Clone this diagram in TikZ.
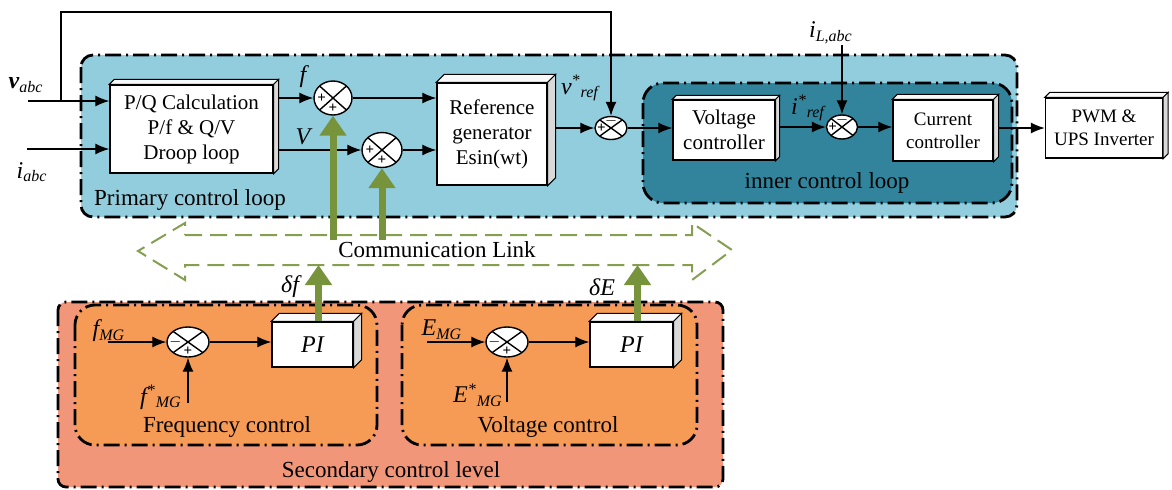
\documentclass[tikz,border=0pt]{standalone}
\usepackage{fontspec}
\setmainfont{Liberation Serif}
\usetikzlibrary{arrows.meta}
\usetikzlibrary{calc}
\usetikzlibrary{shapes.geometric}

\definecolor{primblue}{RGB}{146,205,221}
\definecolor{innerteal}{RGB}{49,132,155}
\definecolor{secsalmon}{RGB}{242,150,122}
\definecolor{ctrlorange}{RGB}{246,155,85}
\definecolor{linkgreen}{RGB}{119,147,60}

\tikzset{
	block/.style={draw, fill=white, line width=0.7pt, align=center, inner sep=0pt,
		font=\fontsize{10.5}{12.5}\selectfont},
	sumj/.style={draw, ellipse, fill=white, line width=0.7pt, inner sep=0pt,
		path picture={\draw[line width=0.7pt]
			(path picture bounding box.north west) -- (path picture bounding box.south east)
			(path picture bounding box.north east) -- (path picture bounding box.south west);}},
	sgn/.style={font=\fontsize{7.5}{7.5}\selectfont\bfseries, inner sep=0pt},
	wire/.style={line width=0.65pt, -{Latex[length=7pt,width=5.5pt]}},
	garrow/.style={draw=linkgreen, line width=3.5pt, -{Triangle[length=10pt,width=13pt]}},
	region/.style={line width=1.4pt, dash pattern=on 8pt off 2.5pt on 1pt off 2.5pt},
	lbl/.style={font=\fontsize{11.5}{13.5}\selectfont},
	sym/.style={font=\fontsize{12}{14}\selectfont\itshape}
}

\begin{document}
\begin{tikzpicture}[x=0.5pt, y=-0.5pt]
	\useasboundingbox (0,0) rectangle (1172,489);

	% -- Control levels
	\draw[region, fill=primblue, rounded corners=6pt] (81,55) rectangle (1017,217);
	\draw[region, fill=innerteal, rounded corners=10pt] (643,83) rectangle (1012,203);
	\draw[region, fill=secsalmon, rounded corners=4pt] (58,302) rectangle (723,487);
	\draw[region, fill=ctrlorange, rounded corners=10pt] (75,305) rectangle (377,445);
	\draw[region, fill=ctrlorange, rounded corners=10pt] (402,305) rectangle (697,445);

	\node[lbl] (primlbl) at (190,200) {Primary control loop};
	\node[lbl] (innerlbl) at (827,183) {inner control loop};
	\node[lbl] (freqlbl) at (227,427) {Frequency control};
	\node[lbl] (voltlbl) at (548,427) {Voltage control};
	\node[lbl] (seclbl) at (391,472) {Secondary control level};

	% -- Communication link
	\draw[draw=linkgreen!90, line width=1pt, dash pattern=on 8.5pt off 4pt]
		(185,235) -- (692,235) -- (692,223) -- (732,250) -- (692,280) -- (692,265)
		-- (185,265) -- (185,280) -- (138,251) -- (185,223) -- cycle;
	\node[lbl] (comm) at (437,250) {Communication Link};

	% -- Blocks
	\node[block, minimum width=81.5pt, minimum height=44pt] (pq) at (191.5,129) {P/Q Calculation\\P/f \& Q/V\\Droop loop};
	\node[block, minimum width=55pt, minimum height=51pt] (ref) at (492,134) {Reference\\generator\\Esin(wt)};
	\node[block, minimum width=51pt, minimum height=30pt] (vc) at (724,130) {Voltage\\controller};
	\node[block, minimum width=50pt, minimum height=30.5pt, font=\fontsize{9.5}{11.5}\selectfont] (cc) at (943,130.5) {Current\\controller};
	\node[block, minimum width=58.5pt, minimum height=30pt, font=\fontsize{9.5}{11.5}\selectfont] (pwm) at (1104,128) {PWM \&\\UPS Inverter};
	\node[block, minimum width=40.5pt, minimum height=22.5pt, font=\fontsize{12}{14}\selectfont\itshape] (pi1) at (312.5,344.5) {PI};
	\node[block, minimum width=41.5pt, minimum height=22.5pt, font=\fontsize{12}{14}\selectfont\itshape] (pi2) at (631.5,344.5) {PI};

	% -- 3D faces
	\foreach \n/\d in {pq/5,ref/8,vc/4,cc/5,pwm/5,pi1/8,pi2/8} {
		\draw[line width=0.5pt, fill=gray!5] (\n.north west) -- ++(\d,-\d) -- ([shift={(\d,-\d)}]\n.north east) -- (\n.north east) -- cycle;
		\draw[line width=0.5pt, fill=gray!30] (\n.north east) -- ++(\d,-\d) -- ([shift={(\d,-\d)}]\n.south east) -- (\n.south east) -- cycle;
	}

	% -- Summing junctions
	\node[sumj, minimum width=19pt, minimum height=17pt] (s1) at (333,98) {};
	\node[sumj, minimum width=20pt, minimum height=17.5pt] (s2) at (382,150) {};
	\node[sumj, minimum width=16pt, minimum height=11.5pt] (s3) at (611,128) {};
	\node[sumj, minimum width=15.5pt, minimum height=12pt] (s4) at (842,127) {};
	\node[sumj, minimum width=21pt, minimum height=15pt] (sf) at (188,342) {};
	\node[sumj, minimum width=21pt, minimum height=15pt] (se) at (507,342) {};
	\foreach \s/\a/\t in {s1/west/+, s1/south/+, s2/west/+, s2/south/+,
		s3/west/+, s3/north/{$-$}, s4/west/+, s4/north/{$-$},
		sf/west/{$-$}, sf/south/+, se/west/{$-$}, se/south/+}
		\node[sgn] at ($(\s.center)!0.58!(\s.\a)$) {\t};

	% -- Signals
	\node[sym] (vabc) at (26,85) {\textbf{v}\textsubscript{abc}};
	\node[sym] (iabc) at (32,172) {i\textsubscript{abc}};
	\node[sym] (flbl) at (303,77) {f};
	\node[sym] (vlbl) at (303,137) {V};
	\node[sym] (vref) at (580,88) {v\textsuperscript{*}\textsubscript{ref}};
	\node[sym] (iref) at (808,108) {i\textsuperscript{*}\textsubscript{ref}};
	\node[sym] (iLabc) at (831,33) {i\textsubscript{L,abc}};
	\node[sym] (df) at (290,287) {δf};
	\node[sym] (dE) at (602,287) {δE};
	\node[sym] (fmglbl) at (109,331) {f\textsubscript{MG}};
	\node[sym] (frefl) at (161,397) {f\textsuperscript{*}\textsubscript{MG}};
	\node[sym] (emglbl) at (442,330) {E\textsubscript{MG}};
	\node[sym] (erefl) at (478,395) {E\textsuperscript{*}\textsubscript{MG}};

	\coordinate (vin) at (28,101);
	\coordinate (iin) at (27,149);
	\coordinate (tap) at (61,101);
	\coordinate (fbtop) at (61,12);
	\coordinate (iL) at (842,45);
	\coordinate (fmg) at (108,342);
	\coordinate (fref) at (188,403);
	\coordinate (emg) at (427,342);
	\coordinate (eref) at (507,402);
	\coordinate (ltop) at (0,240);
	\coordinate (lbot) at (0,265);

	% -- Primary and inner loop wires
	\draw[wire] (vin) -- (vin -| pq.west);
	\draw[wire] (iin) -- (iin -| pq.west);
	\draw[wire] (tap) -- (fbtop) -| (s3.north);
	\draw[wire] ([xshift=2.5pt]s1.west -| pq.east) -- (s1.west);
	\draw[wire] ([xshift=2.5pt]s2.west -| pq.east) -- (s2.west);
	\draw[wire] (s1.east) -- (s1.east -| ref.west);
	\draw[wire] (s2.east) -- (s2.east -| ref.west);
	\draw[wire] ([xshift=4pt]s3.west -| ref.east) -- (s3.west);
	\draw[wire] (s3.east) -- (s3.east -| vc.west);
	\draw[wire] ([xshift=2pt]s4.west -| vc.east) -- (s4.west);
	\draw[wire] (iL) -- (s4.north);
	\draw[wire] (s4.east) -- (s4.east -| cc.west);
	\draw[wire] ([xshift=2.5pt]pwm.west -| cc.east) -- (pwm.west);

	% -- Secondary wires
	\draw[wire] (fmg) -- (sf.west);
	\draw[wire] (fref) -- (sf.south);
	\draw[wire] (sf.east) -- (sf.east -| pi1.west);
	\draw[wire] (emg) -- (se.west);
	\draw[wire] (eref) -- (se.south);
	\draw[wire] (se.east) -- (se.east -| pi2.west);

	% -- Communication arrows
	\draw[garrow] (s1.south |- ltop) -- (s1.south);
	\draw[garrow] (s2.south |- ltop) -- (s2.south);
	\draw[garrow] ([xshift=3pt]pi1.north) -- ([xshift=3pt]pi1.north |- lbot);
	\draw[garrow] ([xshift=3pt]pi2.north) -- ([xshift=3pt]pi2.north |- lbot);
\end{tikzpicture}
\end{document}
